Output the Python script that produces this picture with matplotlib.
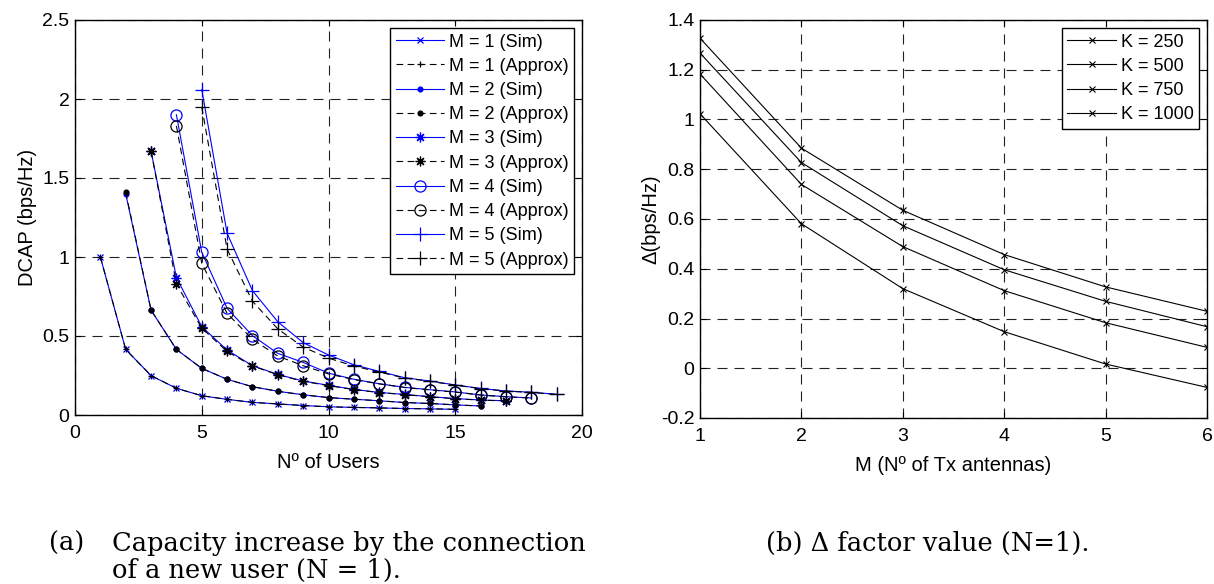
import numpy as np
import matplotlib
matplotlib.use("Agg")
import matplotlib.pyplot as plt
from matplotlib.ticker import FormatStrFormatter

plt.rcParams['font.family'] = ['Liberation Sans', 'DejaVu Sans']

# ---- (a) capacity increase, sim vs approx, per M ----
users = {
    1: list(range(1, 16)),
    2: list(range(2, 17)),
    3: list(range(3, 18)),
    4: list(range(4, 19)),
    5: list(range(5, 20)),
}
sim = {
    1: [1.0, 0.415, 0.249, 0.169, 0.122, 0.099, 0.080, 0.070, 0.060, 0.052, 0.048, 0.045, 0.041, 0.039, 0.036],
    2: [1.40, 0.664, 0.415, 0.295, 0.226, 0.179, 0.150, 0.128, 0.110, 0.100, 0.090, 0.079, 0.073, 0.064, 0.057],
    3: [1.67, 0.87, 0.559, 0.411, 0.312, 0.257, 0.215, 0.188, 0.162, 0.143, 0.130, 0.116, 0.104, 0.095, 0.090],
    4: [1.90, 1.03, 0.675, 0.502, 0.390, 0.333, 0.265, 0.226, 0.198, 0.175, 0.160, 0.146, 0.127, 0.116, 0.108],
    5: [2.06, 1.15, 0.787, 0.590, 0.458, 0.380, 0.318, 0.276, 0.236, 0.215, 0.190, 0.168, 0.152, 0.144, 0.131],
}
approx = {
    1: [1.0, 0.415, 0.249, 0.169, 0.122, 0.099, 0.080, 0.070, 0.060, 0.052, 0.048, 0.045, 0.041, 0.039, 0.036],
    2: [1.41, 0.664, 0.415, 0.295, 0.226, 0.179, 0.150, 0.128, 0.110, 0.100, 0.090, 0.079, 0.073, 0.064, 0.057],
    3: [1.67, 0.83, 0.550, 0.402, 0.310, 0.255, 0.213, 0.186, 0.161, 0.142, 0.129, 0.115, 0.103, 0.094, 0.089],
    4: [1.83, 0.96, 0.643, 0.479, 0.373, 0.312, 0.260, 0.224, 0.197, 0.174, 0.159, 0.145, 0.126, 0.115, 0.107],
    5: [1.95, 1.05, 0.720, 0.545, 0.430, 0.360, 0.310, 0.272, 0.234, 0.213, 0.189, 0.167, 0.151, 0.143, 0.130],
}
star = (8, 2, 0)  # matlab style asterisk
markers = {1: ('x', '+'), 2: ('.', '.'), 3: (star, star), 4: ('o', 'o'), 5: ('+', '+')}
msizes = {1: 4.5, 2: 7, 3: 7, 4: 8, 5: 10}

# ---- (b) delta factor ----
M_ant = [1, 2, 3, 4, 5, 6]
K_labels = ['K = 250', 'K = 500', 'K = 750', 'K = 1000']
delta = [
    [1.327, 0.885, 0.635, 0.457, 0.327, 0.229],
    [1.267, 0.827, 0.573, 0.396, 0.269, 0.167],
    [1.183, 0.739, 0.489, 0.312, 0.183, 0.084],
    [1.023, 0.581, 0.320, 0.147, 0.017, -0.077],
]

fig = plt.figure(figsize=(12.14, 5.84), dpi=100)
W, H = 1214.0, 584.0
ax1 = fig.add_axes([75 / W, 1 - 415 / H, (582 - 75) / W, (415 - 20) / H])
ax2 = fig.add_axes([700 / W, 1 - 418 / H, (1207 - 700) / W, (418 - 20) / H])

for m in range(1, 6):
    ms, ma = markers[m]
    ax1.plot(users[m], sim[m], color='blue', lw=0.8, marker=ms, ms=msizes[m],
             mfc='none' if ms == 'o' else 'blue', mec='blue', mew=0.9,
             label='M = %d (Sim)' % m)
    ax1.plot(users[m], approx[m], color='black', lw=0.8, ls=(0, (6, 4)), marker=ma,
             ms=msizes[m], mfc='none' if ma == 'o' else 'black', mec='black', mew=0.9,
             label='M = %d (Approx)' % m)

for i in range(4):
    ax2.plot(M_ant, delta[i], color='black', lw=0.8, marker='x', ms=4.5, mew=0.8,
             label=K_labels[i])

ax1.set_xlim(0, 20)
ax1.set_ylim(0, 2.5)
ax1.set_xticks([0, 5, 10, 15, 20])
ax1.set_yticks([0, 0.5, 1, 1.5, 2, 2.5])
ax1.set_xlabel('Nº of Users', fontsize=14.5, labelpad=8)
ax1.set_ylabel('DCAP (bps/Hz)', fontsize=14.5, labelpad=4)

ax2.set_xlim(1, 6)
ax2.set_ylim(-0.2, 1.4)
ax2.set_xticks(M_ant)
ax2.set_yticks(np.arange(-0.2, 1.41, 0.2))
ax2.set_xlabel('M (Nº of Tx antennas)', fontsize=14.5, labelpad=8)
ax2.set_ylabel('Δ(bps/Hz)', fontsize=14.5, labelpad=0)

for ax in (ax1, ax2):
    ax.yaxis.set_major_formatter(FormatStrFormatter('%g'))
    ax.grid(True, color='#222222', ls=(0, (9, 6.3)), lw=0.8)
    ax.tick_params(direction='in', top=True, right=True, labelsize=14, length=4)
    ax.tick_params(axis='x', pad=7)
    ax.tick_params(axis='y', pad=4)
    for s in ax.spines.values():
        s.set_linewidth(1.0)

leg_kw = dict(loc='upper right', fontsize=13, handlelength=2.7, handletextpad=0.25,
              labelspacing=0.4, borderpad=0.3, fancybox=False, framealpha=1,
              edgecolor='black', borderaxespad=0.45)
leg1 = ax1.legend(**leg_kw)
leg1.get_frame().set_linewidth(1.0)
leg2 = ax2.legend(**leg_kw)
leg2.get_frame().set_linewidth(1.0)

cap = dict(family=['DejaVu Serif'], fontsize=18.5, va='baseline')
fig.text(49 / W, 1 - 551 / H, '(a)', ha='left', **cap)
fig.text(112 / W, 1 - 551 / H, 'Capacity increase by the connection', ha='left', **cap)
fig.text(112 / W, 1 - 578 / H, 'of a new user (N = 1).', ha='left', **cap)
fig.text(928 / W, 1 - 551 / H, '(b) Δ factor value (N=1).', ha='center', **cap)

fig.savefig('out.png', dpi=100)
